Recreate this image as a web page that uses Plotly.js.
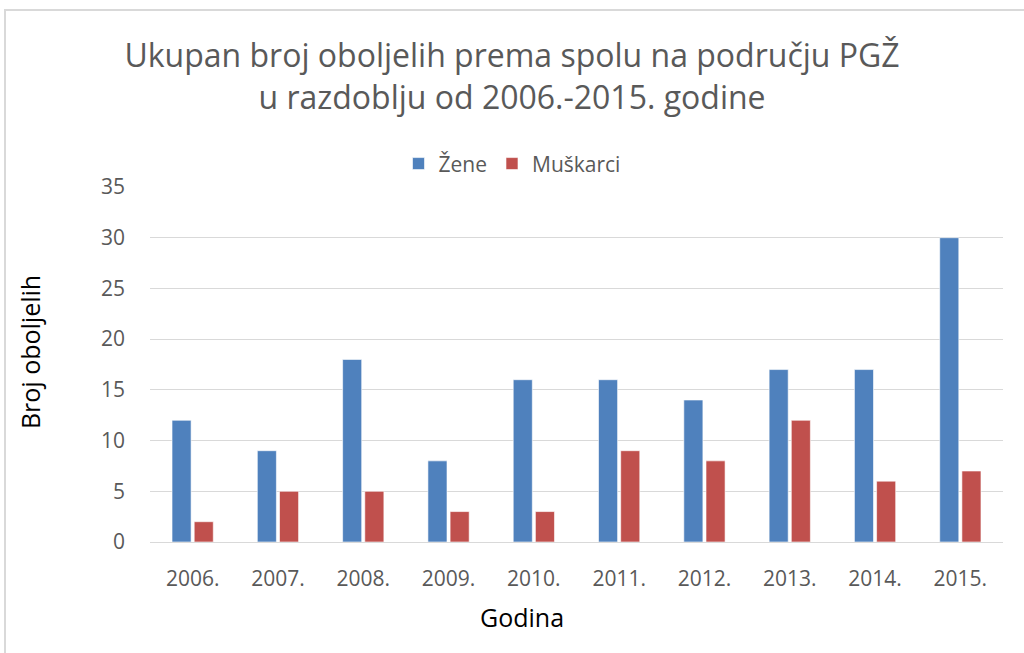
<!DOCTYPE html>
<html><head><meta charset="utf-8">
<script src="https://cdn.plot.ly/plotly-3.0.1.min.js"></script>
<style>html,body{margin:0;padding:0;background:#fff}#chart{width:1024px;height:653px}</style>
</head><body><div id="chart"></div>
<script>
const years = ["2006.","2007.","2008.","2009.","2010.","2011.","2012.","2013.","2014.","2015."];
const zene = [12, 9, 18, 8, 16, 16, 14, 17, 17, 30];
const muskarci = [2, 5, 5, 3, 3, 9, 8, 12, 6, 7];
const seriesNames = ["Žene", "Muškarci"];
const yTicks = [0, 5, 10, 15, 20, 25, 30, 35];
const xTitle = "Godina";
const yTitle = "Broj oboljelih";

const font = "Open Sans, Noto Sans, sans-serif";
const grey = "#595959";
const traces = [
  {type:"bar", name:seriesNames[0], x:years, y:zene, marker:{color:"#4F81BD", line:{color:"#ffffff", width:0.6}}, hoverinfo:"none"},
  {type:"bar", name:seriesNames[1], x:years, y:muskarci, marker:{color:"#C0504D", line:{color:"#ffffff", width:0.6}}, hoverinfo:"none"}
];
const layout = {
  width:1024, height:653,
  margin:{l:150, r:21, t:187, b:111, autoexpand:false},
  paper_bgcolor:"#fff", plot_bgcolor:"#fff",
  barmode:"group", bargap:0.48, bargroupgap:0.14,
  title:{text:"Ukupan broj oboljelih prema spolu na području PGŽ<br>u razdoblju od 2006.-2015. godine",
    font:{family:font, size:32, color:grey}, x:0.5, xanchor:"center", y:0.897, yanchor:"top"},
  showlegend:true,
  legend:{orientation:"h", x:0.4244, xanchor:"center", y:1.065, yanchor:"middle",
    font:{family:font, size:21, color:grey}, traceorder:"normal", itemwidth:30},
  xaxis:{type:"category", tickfont:{family:font, size:21, color:grey}, showgrid:false, automargin:false,
    tickangle:0, showline:false, ticks:"", ticklabelstandoff:22},
  yaxis:{range:[0,35], tickvals:yTicks, tickfont:{family:font, size:21, color:grey}, automargin:false,
    showgrid:true, gridcolor:"#D9D9D9", gridwidth:1, zeroline:true, zerolinecolor:"#D9D9D9", zerolinewidth:1,
    showline:false, ticks:"", ticklabelstandoff:24},
  annotations:[
    {text:xTitle, xref:"paper", yref:"paper", x:0.436, y:-0.211, xanchor:"center", yanchor:"middle",
      showarrow:false, font:{family:font, size:25, color:"#000"}},
    {text:yTitle, xref:"paper", yref:"paper", x:-0.1407, y:0.535, xanchor:"center", yanchor:"middle",
      textangle:-90, showarrow:false, font:{family:font, size:25, color:"#000"}}
  ],
  font:{family:font}
};
Plotly.newPlot("chart", traces, layout, {displayModeBar:false, staticPlot:true}).then(()=>{
  const svg = document.querySelector("#chart .main-svg");
  const ns = "http://www.w3.org/2000/svg";
  const p = document.createElementNS(ns, "path");
  p.setAttribute("d", "M5,653 L5,10 L1024,10");
  p.setAttribute("fill", "none"); p.setAttribute("stroke", "#D9D9D9"); p.setAttribute("stroke-width", 2);
  svg.appendChild(p);
});
</script></body></html>
